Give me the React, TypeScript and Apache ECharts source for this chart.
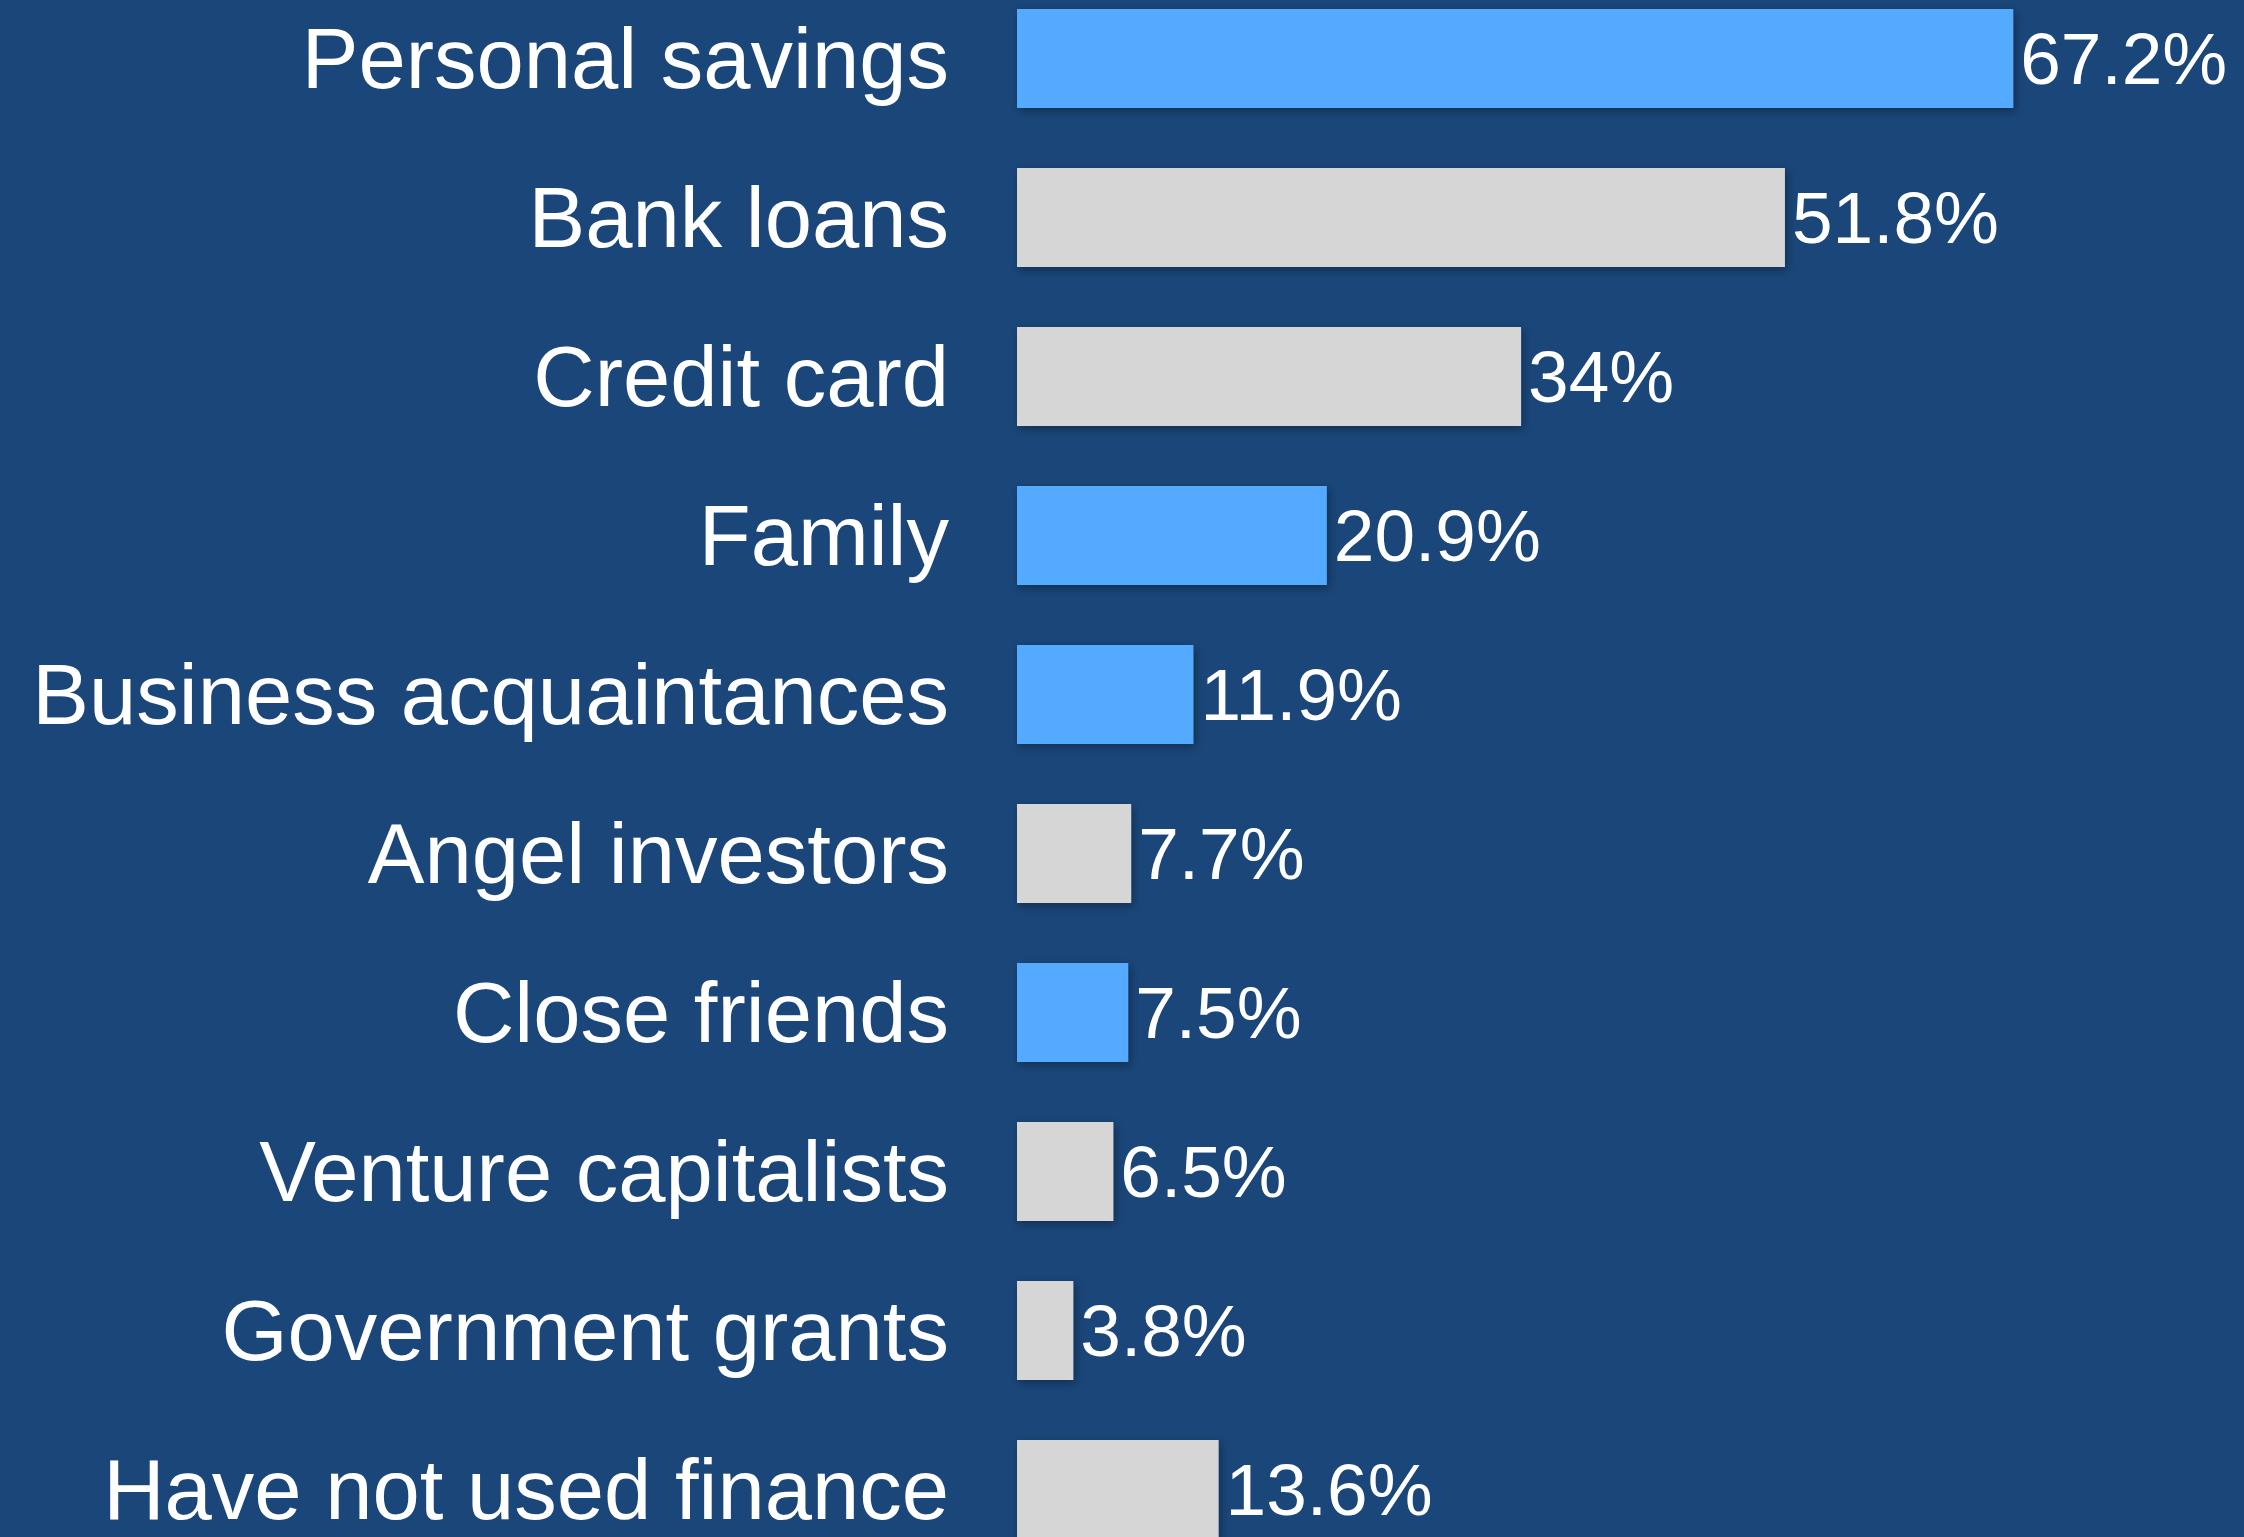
import React, { useEffect, useRef } from "react";
import * as echarts from "echarts";

const categories = [
  "Personal savings",
  "Bank loans",
  "Credit card",
  "Family",
  "Business acquaintances",
  "Angel investors",
  "Close friends",
  "Venture capitalists",
  "Government grants",
  "Have not used finance",
];
const values = [67.2, 51.8, 34, 20.9, 11.9, 7.7, 7.5, 6.5, 3.8, 13.6];
const highlighted = [true, false, false, true, true, false, true, false, false, false];

const BG = "#1A4679";
const BLUE = "#52AAFF";
const GRAY = "#D6D6D6";

export default function App() {
  const ref = useRef<HTMLDivElement>(null);
  useEffect(() => {
    if (!ref.current) return;
    const chart = echarts.init(ref.current, null, { renderer: "svg" });
    const data = values.map((v, i) => {
      const c = highlighted[i] ? BLUE : GRAY;
      return {
        value: v,
        itemStyle: {
          color: c,
          borderColor: c,
          borderWidth: highlighted[i] ? 4 : 0,
          shadowColor: "rgba(0,0,0,0.35)",
          shadowBlur: 10,
          shadowOffsetX: 2,
          shadowOffsetY: 3,
        },
      };
    });
    chart.setOption({
      animation: false,
      backgroundColor: BG,
      grid: {
        left: 1017,
        top: -21,
        width: 1186,
        height: 1590,
        containLabel: false,
        outerBoundsMode: "none",
      },
      xAxis: {
        type: "value",
        min: 0,
        max: 80,
        show: false,
      },
      yAxis: {
        type: "category",
        data: categories,
        inverse: true,
        axisLine: { show: false },
        axisTick: { show: false },
        splitLine: { show: false },
        axisLabel: {
          color: "#FFFFFF",
          fontSize: 85,
          fontFamily: "Liberation Sans, Arial, sans-serif",
          margin: 68,
        },
      },
      series: [
        {
          type: "bar",
          data,
          barWidth: 99,
          label: {
            show: true,
            position: "right",
            distance: 7,
            color: "#FFFFFF",
            fontSize: 73,
            fontFamily: "Liberation Sans, Arial, sans-serif",
            formatter: (p: any) => `${p.value}%`,
          },
        },
      ],
    });
    return () => chart.dispose();
  }, []);
  return (
    <div
      ref={ref}
      style={{ position: "fixed", left: 0, top: 0, width: 2244, height: 1537 }}
    />
  );
}
